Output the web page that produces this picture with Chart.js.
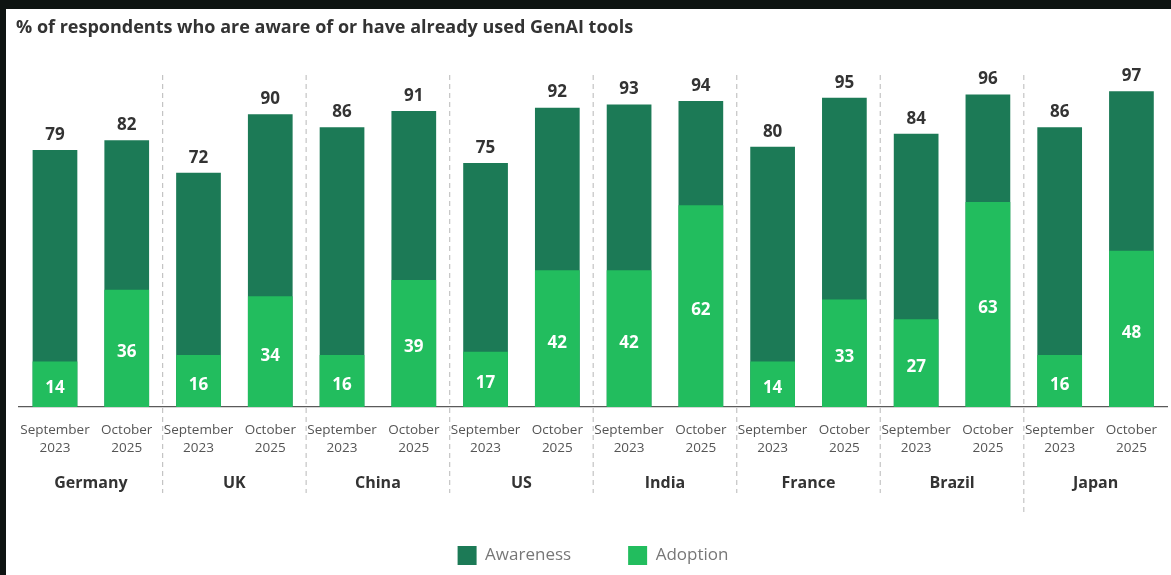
<!DOCTYPE html>
<html>
<head>
<meta charset="utf-8">
<script src="https://cdn.jsdelivr.net/npm/chart.js@4"></script>
<style>
  html, body { margin: 0; padding: 0; background: #0e1412; }
  #panel { position: absolute; left: 6px; top: 9px; width: 1165px; height: 566px; background: #fff; }
  canvas { display: block; }
</style>
</head>
<body>
<div id="panel"><canvas id="chart" width="1165" height="566"></canvas></div>
<script>
// Survey waves per country, two bars each
const countries = ['Germany', 'UK', 'China', 'US', 'India', 'France', 'Brazil', 'Japan'];
const waves = [['September', '2023'], ['October', '2025']];
const awareness = [79, 82, 72, 90, 86, 91, 75, 92, 93, 94, 80, 95, 84, 96, 86, 97];
const adoption = [14, 36, 16, 34, 16, 39, 17, 42, 42, 62, 14, 33, 27, 63, 16, 48];

const labels = countries.flatMap(() => waves);

const DARK = '#1c7a56';
const LIGHT = '#22bd5e';

// Value labels, separators and country names
const annotate = {
    id: 'annotate',
    afterDatasetsDraw(chart) {
        const { ctx } = chart;
        const aw = chart.getDatasetMeta(0).data;
        const ad = chart.getDatasetMeta(1).data;
        ctx.save();
        ctx.textAlign = 'center';
        ctx.textBaseline = 'middle';

        ctx.font = "bold 17px 'Open Sans'";
        ctx.fillStyle = '#333';
        aw.forEach((bar, i) => ctx.fillText(awareness[i], bar.x, bar.y - 15));

        ctx.fillStyle = '#fff';
        ad.forEach((bar, i) => ctx.fillText(adoption[i], bar.x, (bar.y + bar.base) / 2 + 4));

        // dashed group separators
        ctx.strokeStyle = '#c4c4c4';
        ctx.lineWidth = 1.2;
        ctx.setLineDash([5, 4]);
        for (let g = 1; g < countries.length; g++) {
            const x = (aw[g * 2 - 1].x + aw[g * 2].x) / 2;
            ctx.beginPath();
            ctx.moveTo(x, 66);
            ctx.lineTo(x, g === countries.length - 1 ? 504 : 484);
            ctx.stroke();
        }
        ctx.setLineDash([]);

        ctx.font = "bold 16px 'Open Sans'";
        ctx.fillStyle = '#333';
        countries.forEach((c, g) => {
            const x = (aw[g * 2].x + aw[g * 2 + 1].x) / 2;
            ctx.fillText(c, x, 474);
        });
        ctx.restore();
    }
};

Chart.defaults.font.family = "'Open Sans', sans-serif";

new Chart(document.getElementById('chart'), {
    type: 'bar',
    data: {
        labels,
        datasets: [
            { label: 'Awareness', data: awareness, backgroundColor: DARK, order: 2 },
            { label: 'Adoption', data: adoption, backgroundColor: LIGHT, order: 1 }
        ]
    },
    options: {
        responsive: false,
        animation: false,
        datasets: { bar: { grouped: false, categoryPercentage: 1, barPercentage: 0.623, borderWidth: 0 } },
        layout: { padding: { top: 0, left: 10, right: 1, bottom: 0 } },
        scales: {
            x: {
                grid: { display: false, drawTicks: false },
                border: { display: true, color: '#5a5a5a', width: 1.3 },
                ticks: { color: '#555', font: { size: 13.5, lineHeight: 1.35 }, padding: 14, maxRotation: 0, autoSkip: false },
                afterFit(scale) { scale.height = 82; }
            },
            y: { display: false, min: 0, max: 100 }
        },
        plugins: {
            title: {
                display: true,
                text: '% of respondents who are aware of or have already used GenAI tools',
                align: 'start',
                color: '#333',
                font: { size: 18, weight: 'bold' },
                padding: { top: 8, bottom: 43 }
            },
            legend: {
                position: 'bottom',
                labels: {
                    boxWidth: 19, boxHeight: 19, padding: 57,
                    color: '#777', font: { size: 17 },
                    sort: (a, b) => a.datasetIndex - b.datasetIndex
                }
            },
            tooltip: { enabled: false }
        }
    },
    plugins: [annotate]
});
</script>
</body>
</html>
